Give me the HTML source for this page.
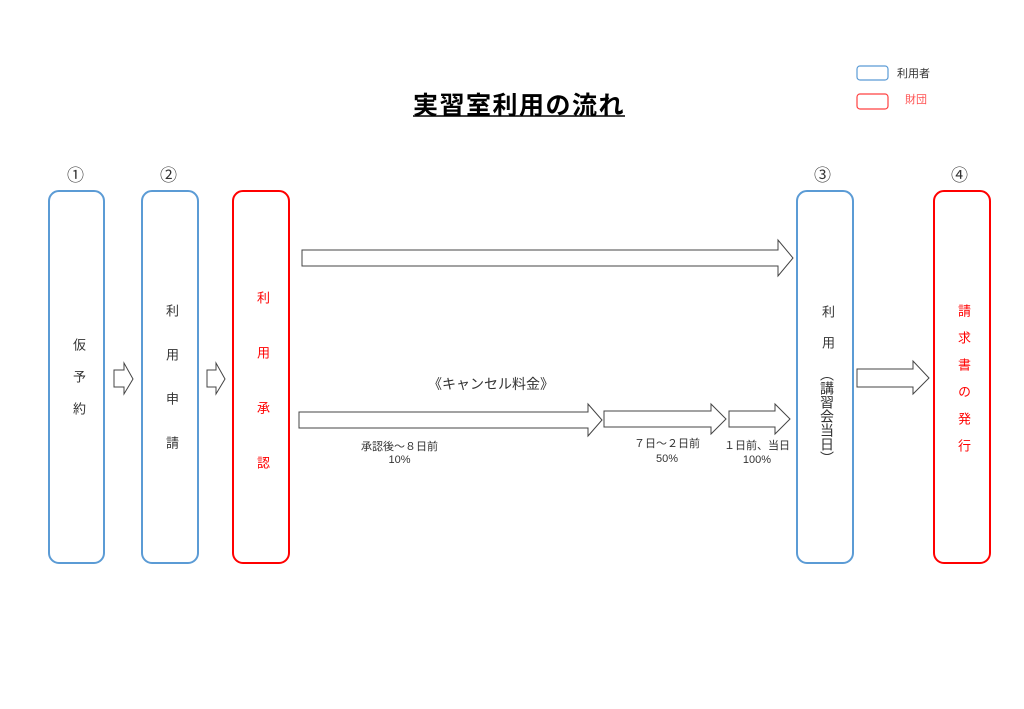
<!DOCTYPE html>
<html><head><meta charset="utf-8"><style>
body{margin:0;background:#fff;width:1024px;height:709px;overflow:hidden;position:relative;font-family:"Liberation Sans","Noto Sans CJK JP",sans-serif;color:#333}
.t{position:absolute;white-space:nowrap}
.v{position:absolute;writing-mode:vertical-rl;font-size:13px;letter-spacing:0}
</style></head><body>
<svg width="1024" height="709" style="position:absolute;left:0;top:0">
<g fill="none" stroke-width="2">
<rect x="49" y="191" width="55" height="372" rx="10" stroke="#5b9bd5"/>
<rect x="142" y="191" width="56" height="372" rx="10" stroke="#5b9bd5"/>
<rect x="233" y="191" width="56" height="372" rx="10" stroke="#ff0000"/>
<rect x="797" y="191" width="56" height="372" rx="10" stroke="#5b9bd5"/>
<rect x="934" y="191" width="56" height="372" rx="10" stroke="#ff0000"/>
<rect x="857" y="66" width="31" height="14" rx="3" stroke="#5b9bd5" stroke-width="1.2"/>
<rect x="857" y="94" width="31" height="15" rx="3" stroke="#ff4040" stroke-width="1.2"/>
</g>
<g fill="#fff" stroke="#444" stroke-width="1">
<polygon points="302,250 778,250 778,240 793,258 778,276 778,266 302,266"/>
<polygon points="114,370 124,370 124,363 133,379 124,394 124,387 114,387"/>
<polygon points="207,370 216,370 216,363 225,379 216,394 216,387 207,387"/>
<polygon points="299,412 588,412 588,404 602,420 588,436 588,428 299,428"/>
<polygon points="604,411 711,411 711,404 726,419 711,434 711,427 604,427"/>
<polygon points="729,411 775,411 775,404 790,419 775,434 775,427 729,427"/>
<polygon points="857,369 913,369 913,361 929,378 913,394 913,387 857,387"/>
</g>
<line x1="413" y1="116" x2="625" y2="116" stroke="#000" stroke-width="1.5"/>
</svg>
<div class="t" style="left:413px;top:86px;font-size:25px;font-weight:bold;color:#000;letter-spacing:1.5px">実習室利用の流れ</div>
<div class="t" style="left:897px;top:65px;font-size:11px">利用者</div>
<div class="t" style="left:905px;top:91px;font-size:11px;color:#ff5050">財団</div>
<div class="t" style="left:67px;top:161px;font-size:17px">①</div>
<div class="t" style="left:160px;top:161px;font-size:17px">②</div>
<div class="t" style="left:814px;top:161px;font-size:17px">③</div>
<div class="t" style="left:951px;top:161px;font-size:17px">④</div>
<div class="v" style="left:69px;top:338px;letter-spacing:19px">仮予約</div>
<div class="v" style="left:162px;top:304px;letter-spacing:31px">利用申請</div>
<div class="v" style="left:253px;top:291px;letter-spacing:42px;color:#ff0000">利用承認</div>
<div class="v" style="left:817px;top:305px;letter-spacing:0"><span style="letter-spacing:18px">利用</span><span style="font-size:14px">（講習会当日）</span></div>
<div class="v" style="left:954px;top:304px;letter-spacing:14px;color:#ff0000">請求書の発行</div>
<div class="t" style="left:428px;top:374px;font-size:14px">《キャンセル料金》</div>
<div class="t" style="left:361px;top:441px;font-size:11px;text-align:center;line-height:13px">承認後～８日前<br>10%</div>
<div class="t" style="left:634px;top:437px;font-size:11px;text-align:center;line-height:15px">７日～２日前<br>50%</div>
<div class="t" style="left:724px;top:439px;font-size:11px;text-align:center;line-height:14px">１日前、当日<br>100%</div>
</body></html>
